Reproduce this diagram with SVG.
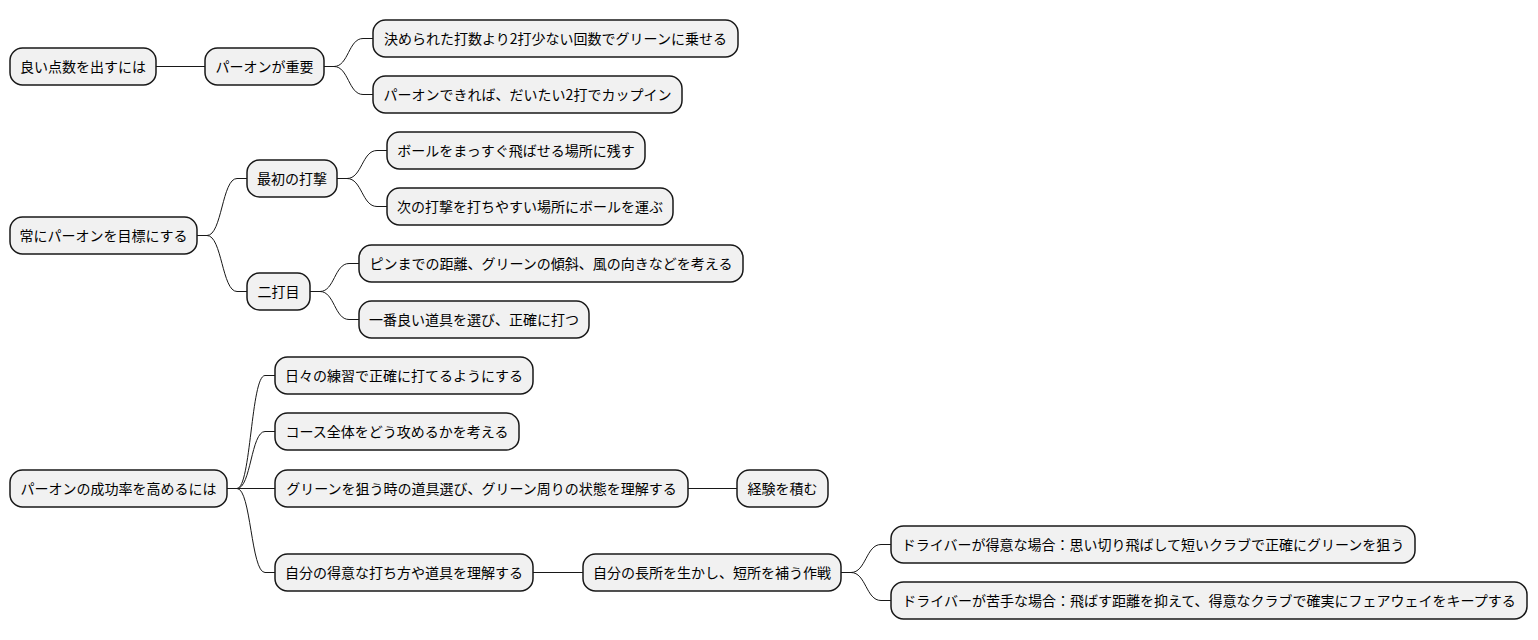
<svg xmlns="http://www.w3.org/2000/svg" width="1538" height="640" viewBox="0 0 1538 640">
<style>
.n rect{fill:#F1F1F1;stroke:#181818;stroke-width:1.5}
.n text{font-family:"Noto Sans CJK JP","Noto Sans",sans-serif;font-size:14px;fill:#000;text-anchor:middle}
.c path{fill:none;stroke:#181818;stroke-width:1}
</style>
<rect width="1538" height="640" fill="#FFFFFF"/>
<g class="c" id="connectors">
<path d="M156,66.5 L205,66.5"/>
<path d="M324,66.5 L334,66.5 C348.5,66.5 348.5,38.5 363,38.5 L373,38.5"/>
<path d="M324,66.5 L334,66.5 C348.5,66.5 348.5,94.5 363,94.5 L373,94.5"/>
<path d="M197,235.5 L207,235.5 C222,235.5 222,178.5 237,178.5 L247,178.5"/>
<path d="M197,235.5 L207,235.5 C222,235.5 222,291.5 237,291.5 L247,291.5"/>
<path d="M337,178.5 L347,178.5 C362,178.5 362,150.5 377,150.5 L387,150.5"/>
<path d="M337,178.5 L347,178.5 C362,178.5 362,206.5 377,206.5 L387,206.5"/>
<path d="M310,291.5 L320,291.5 C334.5,291.5 334.5,263.5 349,263.5 L359,263.5"/>
<path d="M310,291.5 L320,291.5 C334.5,291.5 334.5,319.5 349,319.5 L359,319.5"/>
<path d="M227,488.5 L237,488.5 C251,488.5 251,375.5 265,375.5 L275,375.5"/>
<path d="M227,488.5 L237,488.5 C251,488.5 251,431.5 265,431.5 L275,431.5"/>
<path d="M227,488.5 L275,488.5"/>
<path d="M227,488.5 L237,488.5 C251,488.5 251,572.5 265,572.5 L275,572.5"/>
<path d="M688,488.5 L737,488.5"/>
<path d="M533,572.5 L583,572.5"/>
<path d="M841,572.5 L851,572.5 C866,572.5 866,544.5 881,544.5 L891,544.5"/>
<path d="M841,572.5 L851,572.5 C866,572.5 866,600.5 881,600.5 L891,600.5"/>
</g>
<g class="n" id="n1"><rect x="10" y="48" width="146" height="37" rx="12.5"/><text x="83" y="71.5">良い点数を出すには</text></g>
<g class="n" id="n2"><rect x="205" y="48" width="119" height="37" rx="12.5"/><text x="264.5" y="71.5">パーオンが重要</text></g>
<g class="n" id="n3"><rect x="373" y="20" width="365" height="37" rx="12.5"/><text x="555.5" y="43.5">決められた打数より2打少ない回数でグリーンに乗せる</text></g>
<g class="n" id="n4"><rect x="373" y="76" width="309" height="37" rx="12.5"/><text x="527.5" y="99.5">パーオンできれば、だいたい2打でカップイン</text></g>
<g class="n" id="n5"><rect x="10" y="217" width="187" height="37" rx="12.5"/><text x="103.5" y="240.5">常にパーオンを目標にする</text></g>
<g class="n" id="n6"><rect x="247" y="160" width="90" height="37" rx="12.5"/><text x="292" y="183.5">最初の打撃</text></g>
<g class="n" id="n7"><rect x="387" y="132" width="258" height="37" rx="12.5"/><text x="516" y="155.5">ボールをまっすぐ飛ばせる場所に残す</text></g>
<g class="n" id="n8"><rect x="387" y="188" width="286" height="37" rx="12.5"/><text x="530" y="211.5">次の打撃を打ちやすい場所にボールを運ぶ</text></g>
<g class="n" id="n9"><rect x="247" y="273" width="63" height="37" rx="12.5"/><text x="278.5" y="296.5">二打目</text></g>
<g class="n" id="n10"><rect x="359" y="245" width="384" height="37" rx="12.5"/><text x="551" y="268.5">ピンまでの距離、グリーンの傾斜、風の向きなどを考える</text></g>
<g class="n" id="n11"><rect x="359" y="301" width="230" height="37" rx="12.5"/><text x="474" y="324.5">一番良い道具を選び、正確に打つ</text></g>
<g class="n" id="n12"><rect x="10" y="470" width="217" height="37" rx="12.5"/><text x="118.5" y="493.5">パーオンの成功率を高めるには</text></g>
<g class="n" id="n13"><rect x="275" y="357" width="258" height="37" rx="12.5"/><text x="404" y="380.5">日々の練習で正確に打てるようにする</text></g>
<g class="n" id="n14"><rect x="275" y="413" width="244" height="37" rx="12.5"/><text x="397" y="436.5">コース全体をどう攻めるかを考える</text></g>
<g class="n" id="n15"><rect x="275" y="470" width="413" height="37" rx="12.5"/><text x="481.5" y="493.5">グリーンを狙う時の道具選び、グリーン周りの状態を理解する</text></g>
<g class="n" id="n16"><rect x="737" y="470" width="91" height="37" rx="12.5"/><text x="782.5" y="493.5">経験を積む</text></g>
<g class="n" id="n17"><rect x="275" y="554" width="258" height="37" rx="12.5"/><text x="404" y="577.5">自分の得意な打ち方や道具を理解する</text></g>
<g class="n" id="n18"><rect x="583" y="554" width="258" height="37" rx="12.5"/><text x="712" y="577.5">自分の長所を生かし、短所を補う作戦</text></g>
<g class="n" id="n19"><rect x="891" y="526" width="524" height="37" rx="12.5"/><text x="1153" y="549.5">ドライバーが得意な場合：思い切り飛ばして短いクラブで正確にグリーンを狙う</text></g>
<g class="n" id="n20"><rect x="891" y="582" width="636" height="37" rx="12.5"/><text x="1209" y="605.5">ドライバーが苦手な場合：飛ばす距離を抑えて、得意なクラブで確実にフェアウェイをキープする</text></g>
</svg>
